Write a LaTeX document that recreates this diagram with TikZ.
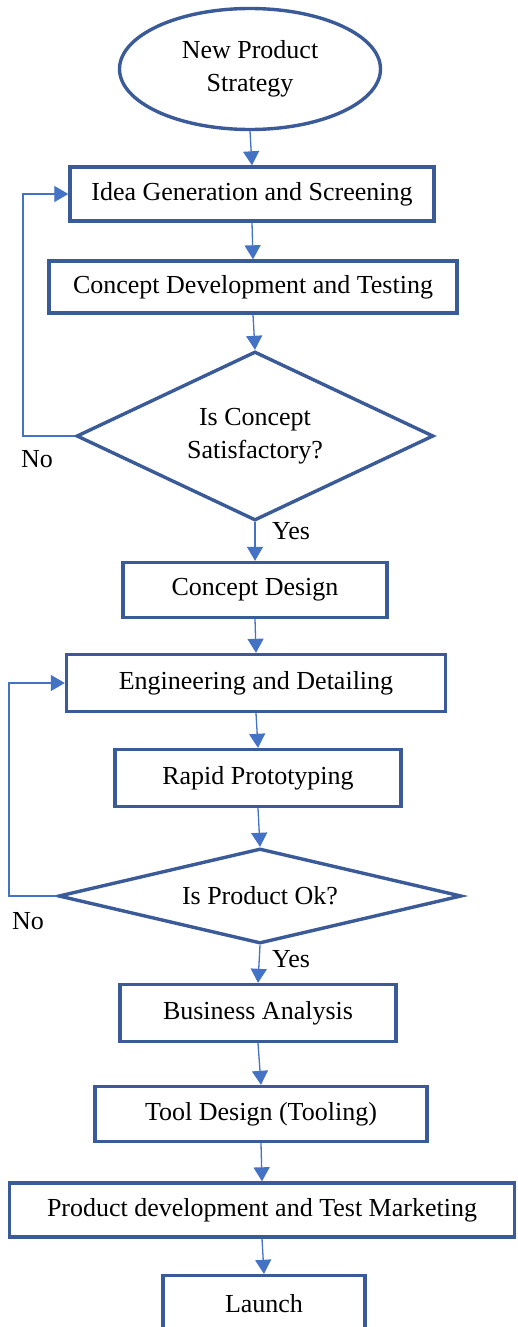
\documentclass[tikz,border=0pt]{standalone}
\usepackage{fontspec}
\setmainfont{Liberation Serif}
\usetikzlibrary{shapes.geometric,arrows.meta}
\definecolor{boxblue}{HTML}{3A5A98}
\definecolor{linkblue}{HTML}{4472C4}

\begin{document}
\begin{tikzpicture}[x=1pt,y=-1pt,
  every node/.style={font=\fontsize{26}{33}\selectfont},
  stepbox/.style={draw=boxblue, line width=3.4pt, rectangle, inner sep=0pt, align=center},
  startbox/.style={draw=boxblue, line width=3.4pt, ellipse, inner sep=0pt, align=center},
  decision/.style={draw=boxblue, line width=3.4pt, diamond, inner sep=0pt, align=center},
  link/.style={draw=linkblue, line width=1.3pt, -{Triangle[length=14pt,width=16pt]}},
  lbl/.style={inner sep=0pt}]
  \useasboundingbox (0,0) rectangle (518,1327);
  \fill[white] (0,0) rectangle (518,1327);

  % process steps
  \node[startbox, minimum width=261pt, minimum height=121pt] (start) at (250,69) {New Product\\Strategy};
  \node[stepbox, minimum width=364pt, minimum height=54pt] (idea) at (252,194) {Idea Generation and Screening};
  \node[stepbox, minimum width=408pt, minimum height=52pt] (cdev) at (253,287) {Concept Development and Testing};
  \node[decision, shape aspect=2.1, minimum width=357pt, minimum height=169pt] (d1) at (255,436) {Is Concept\\Satisfactory?};
  \node[stepbox, minimum width=264pt, minimum height=55pt] (cdes) at (255,590) {Concept Design};
  \node[stepbox, minimum width=379pt, minimum height=57pt] (eng) at (256,683) {Engineering and Detailing};
  \node[stepbox, minimum width=286pt, minimum height=57pt] (rapid) at (258,778) {Rapid Prototyping};
  \node[decision, shape aspect=4.2, minimum width=403pt, minimum height=95pt] (d2) at (260,896) {Is Product Ok?};
  \node[stepbox, minimum width=276pt, minimum height=57pt] (biz) at (258,1013) {Business Analysis};
  \node[stepbox, minimum width=332pt, minimum height=55pt] (tool) at (261,1114) {Tool Design (Tooling)};
  \node[stepbox, minimum width=505pt, minimum height=54pt] (pdev) at (262,1210) {Product development and Test Marketing};
  \node[stepbox, minimum width=202pt, minimum height=56pt] (launch) at (264,1303.5) {Launch};

  % branch labels
  \node[lbl] (no1) at (37,459) {No};
  \node[lbl] (yes1) at (291,531) {Yes};
  \node[lbl] (no2) at (28,921) {No};
  \node[lbl] (yes2) at (291,959) {Yes};

  % main flow
  \draw[link] (start.south) -- (idea.north);
  \draw[link] (idea.south) -- (cdev.north);
  \draw[link] (cdev.south) -- (d1.north);
  \draw[link] (d1.south) -- (cdes.north);
  \draw[link] (cdes.south) -- (eng.north);
  \draw[link] (eng.south) -- (rapid.north);
  \draw[link] (rapid.south) -- (d2.north);
  \draw[link] (d2.south) -- (biz.north);
  \draw[link] (biz.south) -- (tool.north);
  \draw[link] (tool.south) -- (pdev.north);
  \draw[link] (pdev.south) -- (launch.north);

  % rework loops
  \coordinate (n1) at (23,436);
  \coordinate (n2) at (9,896);
  \draw[link] (d1.west) -- (n1) |- (idea.west);
  \draw[link] (d2.west) -- (n2) |- (eng.west);
\end{tikzpicture}
\end{document}
